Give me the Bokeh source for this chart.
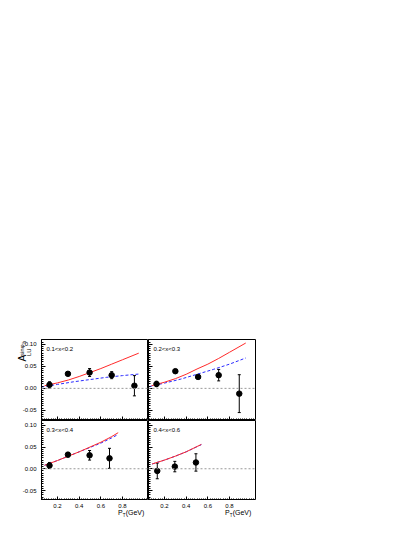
import numpy as np
from bokeh.plotting import figure
from bokeh.layouts import column, row
from bokeh.models import (ColumnDataSource, Whisker, TeeHead, Span, Label, Spacer,
                          FixedTicker, CustomJSTickFormatter, Range1d)
from bokeh.core.properties import value
from bokeh.embed import file_html
from bokeh.resources import INLINE

# ---------------- data ----------------
bins = ["0.1<x<0.2", "0.2<x<0.3", "0.3<x<0.4", "0.4<x<0.6"]

pt_1 = [0.126, 0.296, 0.496, 0.70, 0.91]
a_1 = [0.008, 0.033, 0.036, 0.030, 0.006]
e_1 = [0.007, 0.003, 0.009, 0.008, 0.023]

pt_2 = [0.126, 0.30, 0.51, 0.70, 0.89]
a_2 = [0.010, 0.039, 0.026, 0.030, -0.012]
e_2 = [0.006, 0.003, 0.004, 0.013, 0.043]

pt_3 = [0.126, 0.296, 0.496, 0.68]
a_3 = [0.0075, 0.0325, 0.031, 0.024]
e_3 = [0.007, 0.005, 0.011, 0.023]

pt_4 = [0.133, 0.295, 0.49]
a_4 = [-0.005, 0.005, 0.0145]
e_4 = [0.018, 0.012, 0.020]

red_x_1 = [0.08, 0.2, 0.3, 0.4, 0.5, 0.6, 0.7, 0.8, 0.95]
red_y_1 = [0.006, 0.0125, 0.019, 0.027, 0.036, 0.045, 0.055, 0.065, 0.080]
blue_x_1 = [0.05, 0.2, 0.35, 0.5, 0.65, 0.8, 0.95]
blue_y_1 = [0.003, 0.009, 0.015, 0.020, 0.025, 0.029, 0.0325]

red_x_2 = [0.08, 0.2, 0.3, 0.4, 0.5, 0.6, 0.7, 0.8, 0.95]
red_y_2 = [0.006, 0.014, 0.022, 0.032, 0.044, 0.055, 0.068, 0.082, 0.103]
blue_x_2 = [0.06, 0.2, 0.35, 0.5, 0.65, 0.8, 0.95]
blue_y_2 = [0.004, 0.012, 0.021, 0.032, 0.043, 0.055, 0.069]

red_x_3 = [0.08, 0.2, 0.3, 0.4, 0.5, 0.6, 0.7, 0.76]
red_y_3 = [0.008, 0.019, 0.029, 0.039, 0.050, 0.061, 0.074, 0.083]
blue_x_3 = [0.08, 0.2, 0.3, 0.4, 0.5, 0.6, 0.7, 0.76]
blue_y_3 = [0.008, 0.019, 0.029, 0.039, 0.049, 0.059, 0.071, 0.079]

red_x_4 = [0.086, 0.2, 0.3, 0.4, 0.54]
red_y_4 = [0.011, 0.020, 0.029, 0.039, 0.056]
blue_x_4 = [0.086, 0.2, 0.3, 0.4, 0.54]
blue_y_4 = [0.011, 0.020, 0.029, 0.039, 0.0555]

x_ticks = [0.2, 0.4, 0.6, 0.8]
x_tick_labels = ["0.2", "0.4", "0.6", "0.8"]
y_ticks = [-0.05, 0.0, 0.05, 0.10]
y_tick_labels = ["-0.05", "0.00", "0.05", "0.10"]

FONT = "Liberation Sans"
FW = 107          # frame width of each panel
LW = 41           # width of the left label strip
TOP = 339         # space above the top panels
XR = (0.052, 1.04)
YR = (-0.073, 0.111)


def bare(fig):
    fig.grid.visible = False
    fig.outline_line_color = None
    fig.background_fill_color = "white"
    fig.border_fill_color = "white"
    return fig


def make_panel(i, pt, a, e, rx, ry, bx, by, fh, bt, br):
    p = figure(frame_width=FW, frame_height=fh,
               x_range=Range1d(*XR), y_range=Range1d(*YR),
               output_backend="svg", toolbar_location=None, tools="",
               min_border_left=0, min_border_right=br,
               min_border_top=bt, min_border_bottom=0)
    p.grid.visible = False
    p.outline_line_color = "black"
    p.outline_line_width = 1
    p.outline_line_alpha = 1
    p.background_fill_color = "white"
    p.border_fill_color = "white"

    p.xaxis.ticker = FixedTicker(ticks=x_ticks,
                                 minor_ticks=list(np.round(np.arange(0.06, 1.04, 0.02), 3)))
    p.yaxis.ticker = FixedTicker(ticks=y_ticks,
                                 minor_ticks=list(np.round(np.arange(-0.07, 0.111, 0.005), 4)))
    for ax in (p.xaxis[0], p.yaxis[0]):
        ax.major_tick_in = 4
        ax.major_tick_out = 0
        ax.minor_tick_in = 2
        ax.minor_tick_out = 0
        ax.axis_line_color = "black"
        ax.major_tick_line_color = "black"
        ax.minor_tick_line_color = "black"
        ax.formatter = CustomJSTickFormatter(code="return ''")
        ax.major_label_standoff = 0

    p.add_layout(Span(location=0, dimension="width", line_color="#999999",
                      line_width=1, line_dash="2 2"))

    p.line(bx, by, line_color="#2a2aff", line_width=1, line_dash="3 2")
    p.line(rx, ry, line_color="#ff2a2a", line_width=1)

    src = ColumnDataSource(dict(x=pt, y=a,
                                upper=[v + d for v, d in zip(a, e)],
                                lower=[v - d for v, d in zip(a, e)]))
    p.add_layout(Whisker(source=src, base="x", upper="upper", lower="lower",
                         line_color="black", line_width=1,
                         upper_head=TeeHead(size=3, line_color="black", line_width=1),
                         lower_head=TeeHead(size=3, line_color="black", line_width=1)))
    p.scatter("x", "y", source=src, size=5.5, color="black")

    p.add_layout(Label(x=5, y=fh - 9, x_units="screen", y_units="screen",
                       text=bins[i], text_font=FONT, text_font_size="6px",
                       text_baseline="middle", text_color="black"))
    return p


def y_strip(fh, bt, with_title):
    s = bare(figure(frame_width=LW, frame_height=fh,
                    x_range=Range1d(0, LW), y_range=Range1d(*YR),
                    x_axis_location=None, y_axis_location=None,
                    output_backend="svg", toolbar_location=None, tools="",
                    min_border_left=0, min_border_right=0,
                    min_border_top=bt, min_border_bottom=0))
    s.text(x=36, y=y_ticks, text=y_tick_labels, text_align="right",
           text_baseline="middle", text_font=value(FONT),
           text_font_size="6px", text_color="black")
    if with_title:
        PI2 = np.pi / 2
        s.add_layout(Label(x=27, y=59, x_units="screen", y_units="screen", angle=PI2,
                           text="A", text_font=FONT, text_font_size="10px",
                           text_color="black"))
        s.add_layout(Label(x=31.5, y=64.5, x_units="screen", y_units="screen", angle=PI2,
                           text="LU", text_font=FONT, text_font_size="6px",
                           text_color="black"))
        s.add_layout(Label(x=24.5, y=64.5, x_units="screen", y_units="screen", angle=PI2,
                           text="sinφ", text_font=FONT, text_font_size="6px",
                           text_color="black"))
        s.add_layout(Label(x=26.3, y=77, x_units="screen", y_units="screen", angle=PI2,
                           text="h", text_font=FONT, text_font_size="4.5px",
                           text_color="black"))
    return s


def x_strip():
    H = 20
    s = bare(figure(frame_width=FW, frame_height=H,
                    x_range=Range1d(*XR), y_range=Range1d(0, H),
                    x_axis_location=None, y_axis_location=None,
                    output_backend="svg", toolbar_location=None, tools="",
                    min_border_left=0, min_border_right=0,
                    min_border_top=0, min_border_bottom=0))
    s.text(x=x_ticks, y=15, text=x_tick_labels, text_align="center",
           text_baseline="middle", text_font=value(FONT),
           text_font_size="6px", text_color="black")
    s.add_layout(Label(x=76.5, y=4.5, x_units="screen", y_units="screen",
                       text="P", text_font=FONT, text_font_size="7px",
                       text_color="black"))
    s.add_layout(Label(x=81.2, y=3, x_units="screen", y_units="screen",
                       text="T", text_font=FONT, text_font_size="4.5px",
                       text_color="black"))
    s.add_layout(Label(x=84.2, y=4.5, x_units="screen", y_units="screen",
                       text="(GeV)", text_font=FONT, text_font_size="7px",
                       text_color="black"))
    return s


p1 = make_panel(0, pt_1, a_1, e_1, red_x_1, red_y_1, blue_x_1, blue_y_1, 81, TOP, 0)
p2 = make_panel(1, pt_2, a_2, e_2, red_x_2, red_y_2, blue_x_2, blue_y_2, 81, TOP, 20)
p3 = make_panel(2, pt_3, a_3, e_3, red_x_3, red_y_3, blue_x_3, blue_y_3, 80, 0, 0)
p4 = make_panel(3, pt_4, a_4, e_4, red_x_4, red_y_4, blue_x_4, blue_y_4, 80, 0, 20)

ys1 = y_strip(81, TOP, True)
ys2 = y_strip(80, 0, False)
xs3 = x_strip()
xs4 = x_strip()

layout = column(row(ys1, p1, p2),
                row(ys2, p3, p4),
                row(Spacer(width=LW, height=20), xs3, xs4))

open("out.html", "w").write(file_html(layout, INLINE))
